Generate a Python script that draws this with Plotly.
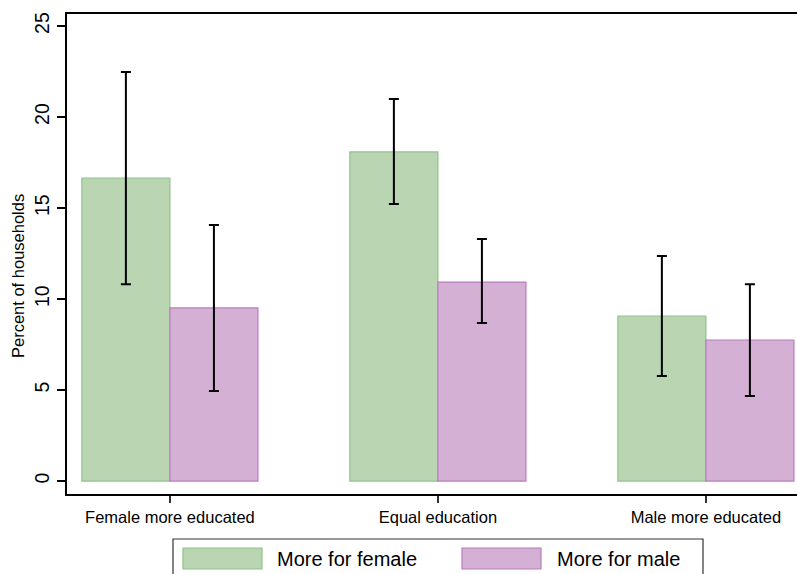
import plotly.graph_objects as go

# Categories and series
categories = ["Female more educated", "Equal education", "Male more educated"]
series_names = ["More for female", "More for male"]

female_pct = [16.65, 18.08, 9.07]
female_hi = [22.47, 20.99, 12.36]
female_lo = [10.82, 15.22, 5.77]

male_pct = [9.51, 10.93, 7.75]
male_hi = [14.07, 13.30, 10.82]
male_lo = [4.95, 8.68, 4.67]

y_ticks = [0, 5, 10, 15, 20, 25]

W, H = 797, 574
L, R, T, B = 67, 0, 14, 80
PW, PH = W - L - R, H - T - B

GREEN, GREEN_LINE = "#b9d5b2", "#8fc38a"
PINK, PINK_LINE = "#d4b0d4", "#b77cc0"

xpos = list(range(len(categories)))


def bar(name, vals, hi, lo, fill, line):
    return go.Bar(
        x=xpos, y=vals, name=name,
        marker=dict(color=fill, line=dict(color=line, width=1.2)),
        error_y=dict(
            type="data", symmetric=False,
            array=[h - v for h, v in zip(hi, vals)],
            arrayminus=[v - l for v, l in zip(vals, lo)],
            color="black", thickness=2, width=5,
        ),
        showlegend=False,
    )


fig = go.Figure([
    bar(series_names[0], female_pct, female_hi, female_lo, GREEN, GREEN_LINE),
    bar(series_names[1], male_pct, male_hi, male_lo, PINK, PINK_LINE),
])

fig.update_layout(
    width=W, height=H,
    margin=dict(l=L, r=R, t=T, b=B, pad=0),
    paper_bgcolor="white", plot_bgcolor="white",
    barmode="group", bargap=0.343, bargroupgap=0,
    font=dict(family="Liberation Sans, Arial, sans-serif", color="black"),
)

fig.update_xaxes(
    range=[-0.384, 2.34],
    tickmode="array", tickvals=xpos, ticktext=categories,
    tickfont=dict(size=16.5), ticks="outside", ticklen=7, tickwidth=1.5,
    tickcolor="#333",
    showline=True, linecolor="black", linewidth=2, mirror=True,
    showgrid=False, zeroline=False,
)
fig.update_yaxes(
    range=[-0.71, 25.66],
    tickmode="array", tickvals=y_ticks,
    tickfont=dict(size=19.5), tickangle=-90,
    ticks="outside", ticklen=8, tickwidth=1.5, tickcolor="black",
    showline=True, linecolor="black", linewidth=2,
    showgrid=False, zeroline=False,
)


def px(x, y):
    """pixel position -> paper coordinates"""
    return (x - L) / PW, (H - B - y) / PH


# y-axis title
tx, ty = px(18, 276)
fig.add_annotation(
    text="Percent of households", xref="paper", yref="paper",
    x=tx, y=ty, showarrow=False, textangle=-90,
    font=dict(size=16.5), xanchor="center", yanchor="middle",
)

# legend box drawn below the plot
x0, y0 = px(173, 539)
x1, y1 = px(703, 590)
fig.add_shape(type="rect", xref="paper", yref="paper",
              x0=x0, y0=y0, x1=x1, y1=y1,
              line=dict(color="#333", width=1.2), fillcolor="white")

legend_items = [
    (series_names[0], GREEN, GREEN_LINE, 183, 275),
    (series_names[1], PINK, PINK_LINE, 462, 555),
]
for name, fill, line, sx, tx_px in legend_items:
    a0, b0 = px(sx, 548)
    a1, b1 = px(sx + 79, 569)
    fig.add_shape(type="rect", xref="paper", yref="paper",
                  x0=a0, y0=b0, x1=a1, y1=b1,
                  line=dict(color=line, width=1.2), fillcolor=fill)
    lx, ly = px(tx_px, 559)
    fig.add_annotation(text=name, xref="paper", yref="paper",
                       x=lx, y=ly, showarrow=False,
                       xanchor="left", yanchor="middle",
                       font=dict(size=20))

fig.write_html("out.html")
